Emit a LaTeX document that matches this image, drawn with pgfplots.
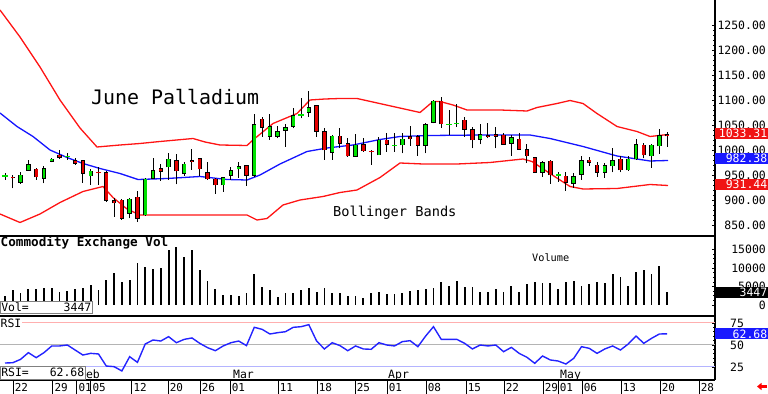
\documentclass[border=0pt]{standalone}
\usepackage{pgfplots}
\pgfplotsset{compat=1.18}
\usepackage{pgfplotstable}
\usepackage{fontspec}
\setmainfont{DejaVu Sans Mono}
\usetikzlibrary{arrows.meta}

\definecolor{cgreen}{RGB}{0,225,0}
\definecolor{cred}{RGB}{228,0,0}
\definecolor{bred}{RGB}{255,20,20}
\definecolor{bblue}{RGB}{20,20,255}
\definecolor{boxred}{RGB}{240,20,20}
\definecolor{boxblue}{RGB}{25,25,255}
\definecolor{rsiblue}{RGB}{35,35,255}
\definecolor{pinkl}{RGB}{255,175,175}
\definecolor{grayl}{RGB}{180,180,180}
\definecolor{bluel}{RGB}{180,180,255}

\newcommand{\fs}[1]{\fontsize{#1}{#1}\selectfont}

% candles: i open high low close, lo = lower end of body, bd = body height
\pgfplotstableread{
i o h l c lo bd
1 935.3 955 932.7 950 935.3 14.7
2 959.3 979.3 958 971.3 959.3 12
4 943.3 968 933.3 963.3 943.3 20
5 976.7 984.7 975.3 982 976.7 5.3
10 948 962 930 958 948 10
15 873.3 904.7 863.3 902 873.3 28.7
17 870 943.3 868.7 942 870 72
18 943.3 983.3 942 958.7 943.3 15.4
20 966 993.3 940 982 966 16
22 953.3 976.7 948 972 953.3 18.7
27 930 946.7 916.7 945.3 930 15.3
28 948.7 966.7 940 958.7 948.7 10
29 962 975.3 944.7 966.7 962 4.7
31 948.7 1071.3 946.7 1051.3 948.7 102.6
33 1026.7 1071.3 1020 1046.7 1026.7 20
34 1026.7 1048.7 1023.3 1036.7 1026.7 10
35 1038.7 1051.3 1006.7 1044.7 1038.7 6
36 1046.7 1084.7 1043.3 1068.7 1046.7 22
38 1075.3 1118 1066.7 1084.7 1075.3 9.4
41 994.7 1030 980 1028 994.7 33.3
44 986.7 1031.3 986.7 1010 986.7 23.3
47 990 1026.7 990 1020 990 30
50 1010 1034.7 993.3 1022 1010 12
53 1008.7 1053.3 993.3 1051.3 1008.7 42.6
54 1054.7 1100 1053.3 1098 1054.7 43.3
60 1021.3 1051.3 1011.3 1031.3 1021.3 10
64 1013.3 1030 988.7 1024.7 1013.3 11.4
68 955.3 978 946.7 975.3 955.3 20
72 933.3 953.3 924.7 946.7 933.3 13.4
73 951.3 988.7 940 979.3 951.3 28
76 954.7 973.3 944.7 968.7 954.7 14
77 968 1003.3 955.3 978.7 968 10.7
79 960 988.7 958.7 982 960 22
80 982 1022 980 1011.3 982 29.3
82 988 1011.3 964.7 1010 988 22
83 1008 1042 992 1028.7 1008 20.7
}\greenC

\pgfplotstableread{
i o h l c lo bd
0 946 949 923 944 944 2
3 962 963.3 940 946 946 16
6 990 1000 982 984.7 984.7 5.3
8 979.3 984.7 970 973.3 973.3 6
9 978.7 980 934.7 953.3 953.3 25.4
12 955.3 958 896.7 898.7 898.7 56.6
13 898.7 904.7 866.7 894 894 4.7
14 900 901.3 860 863.3 863.3 36.7
16 906 918 856.7 863.3 863.3 42.7
19 963.3 971.3 938.7 956.7 956.7 6.6
21 979.3 992 931.3 958 958 21.3
23 978.5 1002 960 977 977 1.5
24 983.3 984.7 948.7 962 962 21.3
25 955.3 975.3 940 942 942 13.3
26 942 943.3 912 930 930 12
30 968.7 970 928.7 948.7 948.7 20
32 1062 1066.7 1026.7 1045.3 1045.3 16.7
39 1088.7 1090 1026.7 1036.7 1036.7 52
40 1036.7 1043.3 980 1000 1000 36.7
42 1028 1044.7 1003.3 1013.3 1013.3 14.7
43 1013.3 1023.3 986.7 988 988 25.3
45 1011.3 1024.7 996.7 998 998 13.3
48 1020 1034.7 996.7 1011.3 1011.3 8.7
51 1026.7 1048 1008.7 1022 1022 4.7
52 1026.7 1030 988 1008.7 1008.7 18
55 1098 1106.7 1044.7 1052 1052 46
58 1060 1066.7 1026.7 1041.3 1041.3 18.7
59 1041.3 1046.7 1003.3 1020 1020 21.3
61 1028.7 1053.3 1023.3 1026.7 1026.7 2
62 1031.3 1046.7 1003.3 1026.7 1026.7 4.6
63 1030 1033.3 1010 1011.3 1011.3 18.7
65 1022 1033.3 1000 1001.3 1001.3 20.7
66 1001.3 1011.3 974.7 988 988 13.3
67 985.3 986.7 955.3 955.3 955.3 30
69 978 980 932 950 950 28
71 948 955.3 918 934.7 934.7 13.3
74 980 986.7 968 975.3 975.3 4.7
75 970 976.7 946.7 955.3 955.3 14.7
78 982 988.7 955.3 960 960 22
81 1010 1013.3 983.3 990 990 20
84 1031.3 1035.3 1006.7 1028 1028 3.3
}\redC

\pgfplotstableread{
i p h l
-1 948 954 940
7 986.7 993 980
37 1070 1104.7 1063.3
49 1008.7 1033.3 996.7
56 1051.3 1080 1030
57 1053.3 1091.3 1046.7
70 950 955.3 936.7
}\dojiG

\pgfplotstableread{
i p h l
11 955 966.7 930
46 996.7 1000 970
}\dojiR

% Bollinger bands (x in chart pixels)
\pgfplotstableread{
x v
0 1280
20 1226
40 1166
60 1100
80 1044
97 1006
120 1010
140 1013
160 1017
193 1023
205 1016
220 1010
247 1009
253 1020
273 1053
297 1073
310 1100
325 1102
340 1103
357 1103
375 1095
393 1087
420 1075
433 1097
440 1097
453 1090
467 1080
500 1080
527 1078
537 1085
557 1093
570 1099
583 1093
597 1073
617 1047
637 1037
650 1027
668 1031
}\upband

\pgfplotstableread{
x v
0 1074
17 1047
33 1027
50 1000
67 985
83 973
100 963
120 953
138 941
167 943
200 947
227 941
247 940
260 950
280 972
307 997
327 1004
353 1010
380 1021
400 1027
430 1029
483 1030
530 1030
550 1023
583 1007
617 988
650 978
668 979
}\midband

\pgfplotstableread{
x v
0 872
20 855
40 872
60 895
83 917
103 927
113 905
127 882
140 870
247 870
257 860
267 863
283 890
300 900
323 907
340 915
357 920
380 945
400 974
423 972
457 972
490 975
523 982
532 977
550 953
570 927
583 922
617 923
650 931
668 929
}\lowband

\pgfplotstableread{
i v
-1 2520
0 4050
1 3330
2 4230
3 4230
4 4590
5 4500
6 3510
7 3780
8 4320
9 4500
10 5400
11 4050
12 6750
13 8550
14 6120
15 6750
16 11250
17 10170
18 9630
19 10080
20 14850
21 15750
22 12870
23 14850
24 9450
25 6480
26 4410
27 2700
28 2610
29 2520
30 3150
31 8280
32 4950
33 4050
34 2250
35 3150
36 3330
37 4050
38 4500
39 3420
40 4500
41 3330
42 3150
43 2520
44 2520
45 1980
46 3330
47 3510
48 2880
49 2880
50 3330
51 3780
52 4050
53 4320
54 4680
55 6120
56 5130
57 6480
58 4950
59 4770
60 3600
61 3510
62 4230
63 3510
64 5130
65 3600
66 5670
67 6300
68 6030
69 6030
70 4230
71 6120
72 6480
73 5220
74 5670
75 6300
76 5850
77 8280
78 7470
79 5130
80 9000
81 9450
82 8460
83 10530
84 3447
}\vol

\pgfplotstableread{
i r
-1 29.5
0 29.9
1 33.7
2 41.3
3 35.6
4 41.3
5 48.9
6 48.9
7 50.0
8 44.3
9 38.6
10 40.5
11 39.8
12 26.1
13 25.4
14 20.5
15 36.7
16 30.3
17 51.1
18 55.7
19 54.5
20 59.5
21 52.6
22 56.4
23 58.0
24 51.9
25 47.0
26 43.5
27 48.9
28 52.6
29 54.5
30 49.3
31 70.1
32 67.8
33 62.5
34 64.0
35 65.1
36 70.1
37 70.8
38 73.1
39 54.5
40 45.5
41 52.6
42 49.3
43 43.5
44 48.9
45 45.5
46 45.1
47 52.6
48 50.0
49 48.9
50 53.8
51 54.9
52 48.1
53 60.2
54 70.8
55 56.4
56 56.4
57 56.4
58 51.9
59 45.5
60 50.0
61 48.9
62 50.0
63 42.4
64 47.3
65 40.5
66 36.0
67 29.2
68 37.5
69 33.0
70 31.8
71 28.4
72 34.8
73 48.1
74 46.2
75 40.5
76 45.5
77 48.9
78 44.3
79 51.1
80 60.2
81 51.9
82 57.6
83 62.5
84 62.68
}\rsi

\pgfplotsset{
  panel/.style={scale only axis, width=715bp, anchor=south west,
    xmin=0, xmax=715, clip=false,
    axis x line*=bottom, axis y line*=right,
    axis line style={-, line width=1.2bp, black},
    xtick=\empty, tick align=inside,
    scaled y ticks=false,
    major tick length=3bp, minor tick length=1.8bp,
    every tick/.style={black, line width=0.6bp},
    yticklabel style={inner sep=0pt, font=\fs{11.5}, text=black}}
}
\tikzset{valbox/.style={anchor=west, inner xsep=0pt, inner ysep=0pt, minimum width=53bp,
    minimum height=11bp, text width=51bp, align=right, text=white, font=\fs{11.5}}}

\newcommand{\candles}[2]{%
  \addplot[quiver={u=0, v=\thisrow{h}-\thisrow{l}}, black, line width=1bp, -]
    table[x expr=12.8+7.79*\thisrow{i}, y=l] {#1};
  \addplot[quiver={u=0, v=\thisrow{bd}+1.4}, black, line width=4.4bp, -]
    table[x expr=12.8+7.79*\thisrow{i}, y expr=\thisrow{lo}-0.7] {#1};
  \addplot[quiver={u=0, v=\thisrow{bd}-1.6}, #2, line width=2.8bp, -]
    table[x expr=12.8+7.79*\thisrow{i}, y expr=\thisrow{lo}+0.8] {#1};
}

\begin{document}
\begin{tikzpicture}[x=1bp, y=1bp]
\path[use as bounding box] (0bp,0bp) rectangle (768bp,394bp);

% ---------------- price panel ----------------
\begin{axis}[panel, at={(0bp,158bp)}, height=236bp,
  ymin=828, ymax=1300,
  ytick={850,900,950,1000,1050,1100,1150,1200,1250},
  yticklabels={850.00,900.00,950.00,1000.00,1050.00,1100.00,1150.00,1200.00,1250.00},
  minor y tick num=4,
  yticklabel style={anchor=east, xshift=51bp},
  after end axis/.code={
    \node[valbox, fill=boxred] at (axis cs:715,1033.31) {1033.31};
    \node[valbox, fill=boxblue] at (axis cs:715,982.38) {982.38};
    \node[valbox, fill=boxred] at (axis cs:715,931.44) {931.44};
  }]
  \addplot[bred, line width=1.3bp] table[x=x, y=v] {\upband};
  \addplot[bred, line width=1.3bp] table[x=x, y=v] {\lowband};
  \addplot[bblue, line width=1.3bp] table[x=x, y=v] {\midband};
  \candles{\greenC}{cgreen}
  \candles{\redC}{cred}
  \addplot[quiver={u=0, v=\thisrow{h}-\thisrow{l}}, black, line width=1bp, -]
    table[x expr=12.8+7.79*\thisrow{i}, y=l] {\dojiG};
  \addplot[quiver={u=0, v=\thisrow{h}-\thisrow{l}}, black, line width=1bp, -]
    table[x expr=12.8+7.79*\thisrow{i}, y=l] {\dojiR};
  \addplot[only marks, mark=-, mark size=2.6bp, mark options={cgreen, line width=1.3bp}]
    table[x expr=12.8+7.79*\thisrow{i}, y=p] {\dojiG};
  \addplot[only marks, mark=-, mark size=2.6bp, mark options={cred, line width=1.3bp}]
    table[x expr=12.8+7.79*\thisrow{i}, y=p] {\dojiR};
\end{axis}

% ---------------- volume panel ----------------
\begin{axis}[panel, at={(0bp,78bp)}, height=80bp,
  ymin=-2970, ymax=18630,
  ytick={0,5000,10000,15000},
  yticklabels={0,5000,10000,15000},
  minor y tick num=3,
  yticklabel style={anchor=east, xshift=51bp},
  after end axis/.code={
    \node[valbox, fill=black] at (axis cs:715,3447) {3447};
    \node[draw=gray, line width=0.6bp, fill=white, anchor=south west, inner xsep=1bp, inner ysep=0pt,
      minimum height=11.6bp, font=\fs{11.5}] at (axis cs:0,-2240) {\makebox[90bp][l]{Vol=\hfill3447}};
  }]
  \addplot[ycomb, black, line width=1.8bp] table[x expr=12.8+7.79*\thisrow{i}, y=v] {\vol};
\end{axis}

% ---------------- RSI panel ----------------
\begin{axis}[panel, at={(0bp,14bp)}, height=64bp,
  ymin=10.227, ymax=82.95,
  ytick={25,50,75},
  yticklabels={25,50,75},
  minor y tick num=4,
  yticklabel style={anchor=west, xshift=15bp},
  after end axis/.code={
    \node[valbox, fill=boxblue] at (axis cs:715,62.68) {62.68};
    \node[anchor=base west, inner sep=0pt, font=\fs{11.5}] at (axis cs:79,11.93) {Feb};
    \node[anchor=base west, inner sep=0pt, font=\fs{11.5}] at (axis cs:233,11.93) {Mar};
    \node[anchor=base west, inner sep=0pt, font=\fs{11.5}] at (axis cs:388,11.93) {Apr};
    \node[anchor=base west, inner sep=0pt, font=\fs{11.5}] at (axis cs:560,11.93) {May};
    \node[draw=gray, line width=0.6bp, fill=white, anchor=south west, inner xsep=1bp, inner ysep=0pt,
      minimum height=13bp, font=\fs{11.5}] at (axis cs:0,11.0) {\makebox[83bp][l]{RSI=\hfill62.68}};
    \node[fill=white, anchor=west, inner xsep=0.5bp, inner ysep=0.5bp, font=\fs{11.5}] at (axis cs:0,75) {RSI};
  }]
  \addplot[pinkl, line width=1bp] coordinates {(0,75) (715,75)};
  \addplot[grayl, line width=1bp] coordinates {(0,50) (715,50)};
  \addplot[bluel, line width=1bp] coordinates {(0,25) (715,25)};
  \addplot[rsiblue, line width=1.4bp] table[x expr=12.8+7.79*\thisrow{i}, y=r] {\rsi};
\end{axis}

% ---------------- date row ----------------
\begin{axis}[scale only axis, width=715bp, height=14bp, at={(0bp,0bp)}, anchor=south west,
  xmin=0, xmax=715, ymin=0, ymax=1, clip=false,
  axis line style={draw=none}, ytick=\empty,
  xtick={13,52.7,76.7,90.7,131.7,168,200,230,278,317,355,387,426,466,504,543,558,582,621,660,699},
  xticklabels={}, major tick length=0pt,
  xmajorgrids, grid style={black, line width=1bp, solid}]
  \foreach \p/\t in {13/22,52.7/29,76.7/01,90.7/05,131.7/12,168/20,200/26,230/01,278/11,317/18,355/25,387/01,426/08,466/15,504/22,543/29,558/01,582/06,621/13,660/20,699/28}{
    \edef\tmp{\noexpand\node[anchor=base west, inner sep=0pt, font=\noexpand\fs{11}] at (axis cs:\p+1.6,0.17) {\t};}\tmp
  }
\end{axis}

% ---------------- titles ----------------
\node[anchor=base west, inner sep=0pt, font=\fs{20}] at (91bp,289bp) {June Palladium};
\node[anchor=base west, inner sep=0pt, font=\fs{13.7}] at (333bp,177bp) {Bollinger Bands};
\node[anchor=base west, inner sep=0pt, font=\bfseries\fs{12.7}] at (0.5bp,147bp) {Commodity Exchange Vol};
\node[anchor=base west, inner sep=0pt, font=\fs{10.3}] at (532bp,132bp) {Volume};
\draw[red, line width=2.2bp, -{Triangle[length=4.5bp, width=7bp]}] (767bp,7.5bp) -- (757bp,7.5bp);
\end{tikzpicture}
\end{document}
